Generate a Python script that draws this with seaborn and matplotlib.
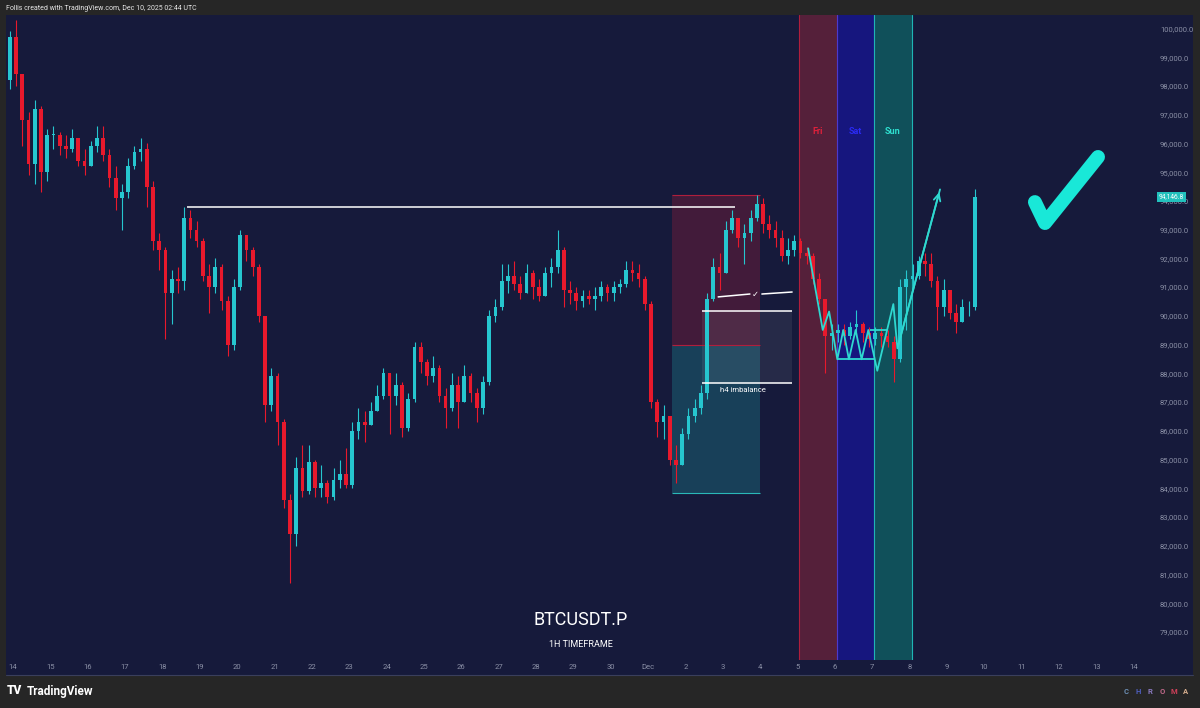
import numpy as np
import pandas as pd
import seaborn as sns
import matplotlib.pyplot as plt
import matplotlib.transforms as mtransforms
from matplotlib.patches import Rectangle
from matplotlib.lines import Line2D

# ------------------------------------------------------
# BTCUSDT.P - velas de 4h (desde 13 nov 20:00)
# ------------------------------------------------------
first_open = 98200
closes = [99700, 98400, 96800, 95300, 97200, 95000, 96300, 96300, 95900, 95800,
          96200, 95400, 95200, 95900, 96200, 95600, 94800, 94100, 94300, 95200,
          95700, 95800, 94500, 92600, 92300, 90800, 91300, 91200, 93400, 93000,
          92600, 91400, 91000, 91700, 90500, 89000, 91000, 92800, 92300, 91700,
          90000, 86900, 87900, 86300, 83600, 82400, 84700, 83900, 84900, 84000,
          84200, 83700, 84300, 84500, 84100, 86000, 86300, 86200, 86700, 87200,
          88000, 87200, 87600, 86100, 87100, 88900, 88400, 87900, 88200, 87200,
          86800, 87600, 87000, 87900, 87300, 86800, 87700, 90000, 90300, 91200,
          91400, 91100, 90800, 91500, 91000, 90700, 91500, 91700, 92300, 90900,
          90800, 90500, 90700, 90600, 90700, 91000, 90800, 91000, 91100, 91600,
          91500, 91300, 90400, 87000, 86300, 86500, 85000, 84800, 85900, 86500,
          86800, 87300, 90600, 91700, 91500, 93000, 93400, 92700, 92900, 93400,
          93900, 93200, 93000, 92700, 92100, 92300, 92600, 92200, 92100, 91300,
          90600, 89300, 89400, 89500, 89300, 89600, 89700, 89400, 89200, 89400,
          89300, 89100, 88500, 91000, 91300, 91400, 91900, 91800, 91200, 90300,
          90900, 90100, 89800, 90300, 90300, 94146]
highs = [99900, 100300, 98000, 97100, 97500, 97300, 96500, 96600, 96400, 96300,
         96500, 96200, 95800, 96100, 96600, 96600, 95800, 95200, 94600, 95500,
         95900, 96200, 96000, 94700, 92900, 92400, 91600, 91700, 93800, 93700,
         93300, 92700, 91800, 92000, 91800, 90700, 91300, 93000, 92800, 92400,
         91800, 90000, 88200, 88000, 86400, 83800, 85100, 85500, 85500, 85000,
         84800, 84300, 84700, 85000, 85400, 86300, 86800, 86700, 87000, 87600,
         88200, 88000, 88000, 87700, 87300, 89100, 89100, 88500, 88600, 88300,
         87500, 88000, 87900, 88300, 88000, 87500, 87900, 90200, 90600, 91800,
         91800, 91900, 91400, 91800, 91600, 91300, 91700, 92000, 93000, 92400,
         91200, 91000, 90900, 90900, 91000, 91200, 91100, 91200, 91300, 91900,
         91900, 91800, 91400, 90500, 87100, 86900, 86300, 85500, 86100, 86800,
         87100, 87600, 90800, 92000, 92200, 93300, 93700, 93300, 93200, 93700,
         94200, 94100, 93500, 93300, 93000, 92700, 92800, 92700, 92400, 92200,
         91500, 90600, 89700, 89700, 89700, 89800, 90200, 89800, 89600, 89600,
         89600, 89500, 89300, 91300, 91600, 91800, 92100, 92200, 92200, 91400,
         91300, 90800, 90400, 90600, 90500, 94400]
lows = [97900, 98000, 95900, 94900, 94600, 94300, 94700, 95800, 95600, 95500,
        95700, 95200, 94900, 95200, 95700, 95400, 94500, 93700, 93000, 94100,
        95100, 95400, 93800, 92300, 91600, 89200, 89700, 90800, 90900, 92700,
        92400, 91200, 90100, 90800, 90200, 88600, 88800, 90900, 91900, 91400,
        89800, 86300, 86700, 85500, 83300, 80700, 82000, 83700, 83800, 83700,
        83700, 83500, 83600, 84000, 84000, 84000, 85700, 85600, 86200, 86700,
        87100, 85900, 86900, 85800, 86000, 87000, 88000, 87600, 87700, 87000,
        86100, 86700, 86100, 87300, 87000, 86300, 86600, 87600, 89800, 90200,
        90800, 90900, 90600, 90800, 90600, 90500, 90700, 91000, 91500, 90300,
        90400, 90200, 90300, 90400, 90200, 90500, 90500, 90500, 90800, 91000,
        91200, 91000, 90200, 86800, 85800, 85700, 84800, 84200, 84800, 85700,
        86300, 86600, 87100, 90500, 90900, 91500, 92900, 92400, 91800, 92600,
        93300, 92900, 92700, 92400, 91900, 91800, 92100, 92000, 91800, 91100,
        90400, 88000, 88800, 89100, 89000, 89200, 89300, 89100, 88900, 89000,
        88900, 88900, 87700, 88400, 89500, 90900, 91300, 91400, 91000, 89500,
        90000, 89900, 89400, 89900, 90000, 90200]

price_ticks = list(range(79000, 100001, 1000))
day_labels = [str(d) for d in range(14, 31)] + ["Dec"] + [str(d) for d in range(2, 15)]
last_price = 94146.8

# dibujos (dias desde 14 nov, precio)
level_days = [4.66, 19.33]
level_price = 93800
pos_days = [17.64, 20.0]
pos_top, pos_entry, pos_stop = 94200, 89000, 83820
imb_days = [18.45, 20.86]
imb_top, imb_bottom = 90170, 87660
tick_days_a = [18.88, 19.73]
tick_prices_a = [90660, 90760]
tick_days_b = [20.05, 20.86]
tick_prices_b = [90760, 90830]
weekend_days = [21.05, 22.05, 23.05, 24.07]
weekend_names = ["Fri", "Sat", "Sun"]
zig_days = [21.29, 21.68, 21.85, 22.07, 22.23, 22.38, 22.56, 22.72, 22.90,
            23.14, 23.57, 23.68, 24.82]
zig_prices = [92350, 89510, 90150, 88490, 89510, 88490, 89510, 88490, 89510,
              88090, 90410, 88870, 94400]
range_low_days = [22.05, 23.08]
range_low = 88490
range_high_days = [22.95, 23.41]
range_high = 89510
check_days = [27.36, 27.63, 29.05]
check_prices = [93960, 93230, 95530]

# ------------------------------------------------------
sns.set_theme(style="dark")
plt.rcParams['font.family'] = ['Roboto', 'DejaVu Sans']

NAVY = '#161a3b'
FRAME = '#262626'
UP, DOWN = '#26c6cf', '#e8192c'
CYAN = '#2fd8d0'

n = len(closes)
times = pd.date_range('2025-11-13 20:00', periods=n, freq='4h')
df = pd.DataFrame({'close': closes, 'high': highs, 'low': lows})
df['open'] = df['close'].shift(1).fillna(first_open)
df['t'] = (times - pd.Timestamp('2025-11-14')) / pd.Timedelta(days=1) + 1 / 12
df['high'] = df[['high', 'open', 'close']].max(axis=1)
df['low'] = df[['low', 'open', 'close']].min(axis=1)
df['up'] = df['close'] >= df['open']

fig = plt.figure(figsize=(12, 7.08), dpi=100, facecolor=FRAME)
fig.add_artist(Rectangle((6 / 1200, 33 / 708), 1187 / 1200, 660 / 708,
                         transform=fig.transFigure, facecolor=NAVY, edgecolor='none', zorder=0))
fig.add_artist(Line2D([6 / 1200, 1193 / 1200], [33 / 708, 33 / 708], transform=fig.transFigure,
                      color='#3a3f5c', lw=0.8))
ax = fig.add_axes([6 / 1200, 48 / 708, 1129 / 1200, 645 / 708], facecolor=NAVY)

# bandas fin de semana
band_fill = ['#55203a', '#16167e', '#10505a']
band_edge = ['#b01e3c', '#4a3ad0', '#1fb5b5']
band_text = ['#e0203a', '#2a2af5', '#2ee0d0']
for i, name in enumerate(weekend_names):
    ax.axvspan(weekend_days[i], weekend_days[i + 1], color=band_fill[i], zorder=0.5, lw=0)
    ax.axvline(weekend_days[i], color=band_edge[i], lw=0.8, zorder=0.6)
    ax.axvline(weekend_days[i + 1], color=band_edge[i], lw=0.8, zorder=0.6)
    ax.text((weekend_days[i] + weekend_days[i + 1]) / 2, 96430, name, color=band_text[i],
            fontsize=6.5, fontweight='bold', ha='center', va='center', zorder=4)

# herramienta de posicion
ax.add_patch(Rectangle((pos_days[0], pos_entry), pos_days[1] - pos_days[0], pos_top - pos_entry,
                       facecolor='#d0203a', alpha=0.24, edgecolor='none', zorder=1))
ax.add_patch(Rectangle((pos_days[0], pos_stop), pos_days[1] - pos_days[0], pos_entry - pos_stop,
                       facecolor='#1fb5b5', alpha=0.25, edgecolor='none', zorder=1))
ax.hlines([pos_top, pos_entry], pos_days[0], pos_days[1], color='#b01e3c', lw=0.8, zorder=1.2)
ax.hlines(pos_stop, pos_days[0], pos_days[1], color='#2ab8b8', lw=0.8, zorder=1.2)

# imbalance h4
ax.add_patch(Rectangle((imb_days[0], imb_bottom), imb_days[1] - imb_days[0], imb_top - imb_bottom,
                       facecolor='white', alpha=0.07, edgecolor='none', zorder=1.1))

# velas
colors = np.where(df['up'], UP, DOWN)
ax.vlines(df['t'], df['low'], df['high'], colors=colors, lw=0.8, zorder=2)
body = (df['close'] - df['open']).abs().clip(lower=25)
ax.bar(df['t'], body, bottom=df[['open', 'close']].min(axis=1), width=0.1,
       color=colors, linewidth=0, zorder=2.1)

# lineas blancas
ax.hlines(level_price, level_days[0], level_days[1], color='white', lw=1.1, zorder=3)
ax.hlines([imb_top, imb_bottom], imb_days[0], imb_days[1], color='white', lw=1.1, zorder=3)
ax.plot(tick_days_a, tick_prices_a, color='white', lw=1.1, zorder=3)
ax.plot(tick_days_b, tick_prices_b, color='white', lw=1.1, zorder=3)
ax.text(19.88, 90740, "\u2713", color='white', fontsize=6, ha='center', va='center', zorder=3)
ax.text((imb_days[0] + imb_days[1]) / 2 - 0.1, 87420, "h4 imbalance", color='white',
        fontsize=5.5, ha='center', va='center', zorder=3)

# zigzag cyan y flecha
sns.lineplot(x=zig_days, y=zig_prices, sort=False, estimator=None, color=CYAN, lw=1.3,
             ax=ax, zorder=3.5)
ax.hlines(range_low, range_low_days[0], range_low_days[1], color=CYAN, lw=1.3, zorder=3.5)
ax.hlines(range_high, range_high_days[0], range_high_days[1], color=CYAN, lw=1.3, zorder=3.5)
ax.annotate('', xy=(zig_days[-1], zig_prices[-1]), xytext=(zig_days[-2], zig_prices[-2]),
            arrowprops=dict(arrowstyle='->', color=CYAN, lw=1.3, mutation_scale=12), zorder=3.5)

# check grande
ax.plot(check_days, check_prices, color='#19e8d8', lw=10, solid_capstyle='round',
        solid_joinstyle='round', zorder=4)

# textos centrales
ax.text(15.2, 79420, "BTCUSDT.P", color='white', fontsize=13, ha='center', va='center')
ax.text(15.2, 78550, "1H TIMEFRAME", color='white', fontsize=6.5, ha='center', va='center')

# ejes
ax.set_xlim(-0.187, 30.04)
ax.set_ylim(78024, 100470)
ax.set_xticks(range(len(day_labels)))
ax.set_xticklabels(day_labels)
ax.set_yticks(price_ticks)
ax.set_yticklabels([f"{p:,.1f}" for p in price_ticks])
ax.yaxis.tick_right()
ax.tick_params(axis='y', length=0, pad=18, labelsize=5.5, labelcolor='#8b90a6')
ax.tick_params(axis='x', length=0, pad=3, labelsize=5.5, labelcolor='#8b90a6')
for lab in ax.get_yticklabels():
    lab.set_horizontalalignment('left')
ax.grid(False)
for s in ax.spines.values():
    s.set_visible(False)
ax.set_xlabel("")
ax.set_ylabel("")

# etiqueta precio actual
trans = mtransforms.blended_transform_factory(ax.transAxes, ax.transData)
ax.text(1.0325, last_price, f"{last_price:,.1f}", transform=trans, color='white', fontsize=4.8,
        ha='center', va='center', zorder=5, clip_on=False,
        bbox=dict(boxstyle='square,pad=0.25', facecolor='#22c1bd', edgecolor='none'))

# cabecera y pie
fig.text(6 / 1200, 1 - 8 / 708, "Follis created with TradingView.com, Dec 10, 2025 02:44 UTC",
         color='#e6e6e6', fontsize=5, ha='left', va='center')
fig.text(7 / 1200, 1 - 691 / 708, "TV", color='white', fontsize=8.5, fontweight='heavy',
         ha='left', va='center')
fig.text(27 / 1200, 1 - 691 / 708, "TradingView", color='white', fontsize=8.5, fontweight='bold',
         ha='left', va='center')
chroma_cols = ['#6c8fb5', '#4f5fc0', '#8a7ac0', '#c06a8a', '#d2405a', '#d8b090']
for i, (ch, c) in enumerate(zip("CHROMA", chroma_cols)):
    fig.text((1126 + i * 12) / 1200, 1 - 692 / 708, ch, color=c, fontsize=5.5,
             fontweight='bold', ha='center', va='center')

plt.savefig("out.png", dpi=100, facecolor=FRAME)
